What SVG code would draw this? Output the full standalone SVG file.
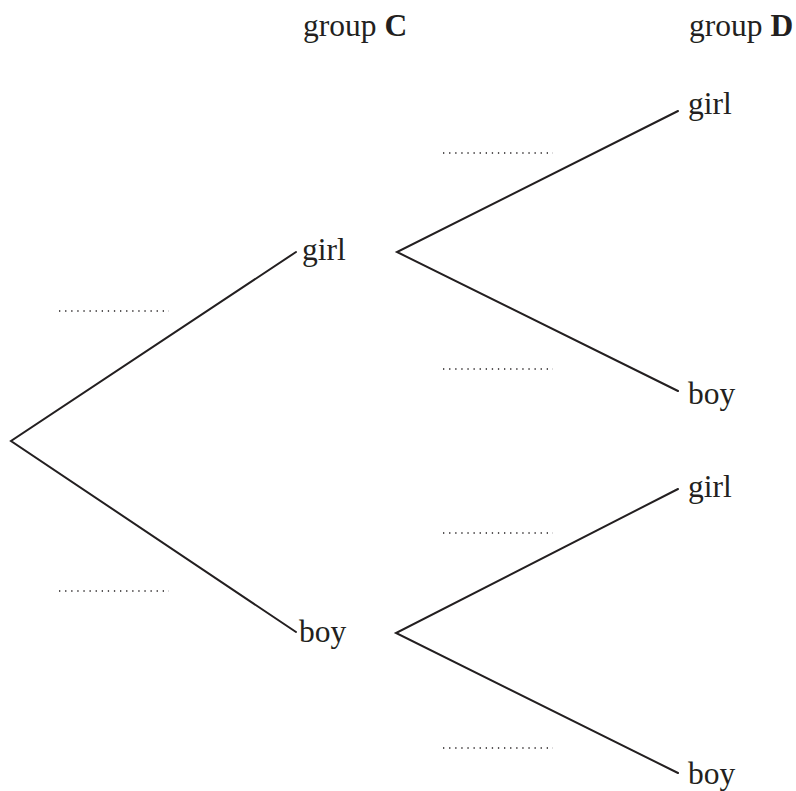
<svg xmlns="http://www.w3.org/2000/svg" width="796" height="791" viewBox="0 0 796 791">
<style>
.t{font-family:'Liberation Serif','Times New Roman',Times,serif;font-size:31.5px;fill:#231f20}
.c{stroke:#231f20;stroke-width:2;fill:none;stroke-linecap:round;stroke-linejoin:miter}
.d{stroke:#231f20;stroke-width:1.3;stroke-dasharray:1.3 4.8;fill:none}
</style>
<rect width="796" height="791" fill="#fff"/>
<g id="headers">
<text class="t" x="303" y="36">group <tspan font-weight="bold">C</tspan></text>
<text class="t" x="689" y="36">group <tspan font-weight="bold">D</tspan></text>
</g>
<g id="connectors">
<polyline class="c" points="296,252 11,441 296,632"/>
<polyline class="c" points="678,111 397,252 678,391"/>
<polyline class="c" points="678,489 396,633 678,773"/>
</g>
<g id="answer-lines">
<line class="d" x1="59" y1="311" x2="169" y2="311"/>
<line class="d" x1="59" y1="591" x2="169" y2="591"/>
<line class="d" x1="443" y1="153" x2="553" y2="153"/>
<line class="d" x1="443" y1="369" x2="553" y2="369"/>
<line class="d" x1="443" y1="533" x2="553" y2="533"/>
<line class="d" x1="443" y1="748" x2="553" y2="748"/>
</g>
<g id="node-c-girl"><text class="t" x="302" y="260">girl</text></g>
<g id="node-c-boy"><text class="t" x="299" y="642">boy</text></g>
<g id="node-d-girl1"><text class="t" x="688" y="114">girl</text></g>
<g id="node-d-boy1"><text class="t" x="688" y="404">boy</text></g>
<g id="node-d-girl2"><text class="t" x="688" y="497">girl</text></g>
<g id="node-d-boy2"><text class="t" x="688" y="784">boy</text></g>
</svg>
